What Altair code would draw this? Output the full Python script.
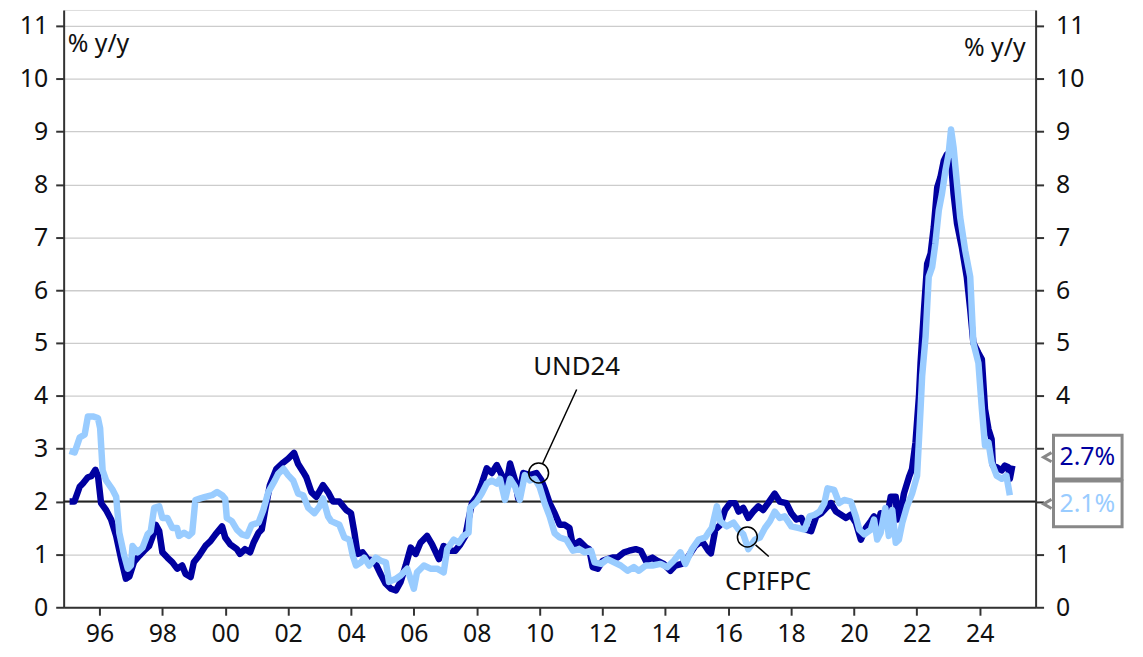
import altair as alt
import pandas as pd

# ---------------- data ----------------
und24_t = [1995.05, 1995.20, 1995.37, 1995.47, 1995.63, 1995.74, 1995.87, 1995.95,
           1996.05, 1996.21, 1996.37, 1996.53, 1996.69, 1996.84, 1996.95,
           1997.10, 1997.26, 1997.42, 1997.58, 1997.68, 1997.79, 1997.90,
           1998.00, 1998.16, 1998.32, 1998.47, 1998.63, 1998.74, 1998.90,
           1999.00, 1999.16, 1999.37, 1999.53, 1999.69, 1999.90,
           2000.00, 2000.16, 2000.37, 2000.47, 2000.63, 2000.79, 2000.90,
           2001.06, 2001.16, 2001.27, 2001.42, 2001.63, 2001.85,
           2002.00, 2002.19, 2002.32, 2002.48, 2002.58, 2002.74, 2002.90,
           2003.11, 2003.27, 2003.43, 2003.63, 2003.85,
           2004.00, 2004.11, 2004.21, 2004.37, 2004.53, 2004.74, 2004.95,
           2005.10, 2005.27, 2005.43, 2005.58, 2005.74, 2005.90,
           2006.06, 2006.21, 2006.42, 2006.58, 2006.80, 2006.95,
           2007.16, 2007.32, 2007.48, 2007.64, 2007.74, 2007.85,
           2008.00, 2008.16, 2008.32, 2008.48, 2008.64, 2008.80, 2008.90,
           2009.06, 2009.22, 2009.32, 2009.48, 2009.69, 2009.90,
           2010.06, 2010.16, 2010.32, 2010.48, 2010.64, 2010.80, 2010.95,
           2011.06, 2011.27, 2011.48, 2011.58, 2011.69, 2011.85,
           2012.01, 2012.16, 2012.32, 2012.48, 2012.69, 2012.85,
           2013.06, 2013.22, 2013.38, 2013.59, 2013.74, 2013.95,
           2014.16, 2014.32, 2014.53, 2014.74, 2014.95,
           2015.17, 2015.37, 2015.45, 2015.59, 2015.75, 2015.90,
           2016.06, 2016.22, 2016.33, 2016.48, 2016.64, 2016.80, 2016.96,
           2017.11, 2017.27, 2017.48, 2017.64, 2017.85,
           2018.01, 2018.17, 2018.33, 2018.48, 2018.64, 2018.80, 2018.96,
           2019.12, 2019.27, 2019.43, 2019.59, 2019.75, 2019.90,
           2020.06, 2020.22, 2020.38, 2020.54, 2020.64, 2020.74, 2020.85,
           2021.01, 2021.17, 2021.33, 2021.38, 2021.48, 2021.59, 2021.75, 2021.85, 2021.96,
           2022.07, 2022.12, 2022.23, 2022.33, 2022.44, 2022.54, 2022.65, 2022.75, 2022.86, 2022.96,
           2023.07, 2023.17, 2023.28, 2023.43, 2023.59, 2023.70, 2023.80, 2023.96,
           2024.07, 2024.17, 2024.28, 2024.38, 2024.42, 2024.54, 2024.70, 2024.80, 2024.91, 2024.96,
           2025.04]
und24_v = [2.00, 2.00, 2.28, 2.34, 2.46, 2.48, 2.60, 2.50,
           1.97, 1.84, 1.66, 1.35, 0.91, 0.54, 0.58,
           0.86, 0.97, 1.07, 1.16, 1.32, 1.56, 1.44,
           1.04, 0.94, 0.85, 0.73, 0.79, 0.63, 0.57,
           0.85, 0.97, 1.16, 1.25, 1.38, 1.53,
           1.32, 1.19, 1.10, 1.01, 1.10, 1.04, 1.22,
           1.41, 1.47, 1.84, 2.31, 2.62, 2.74,
           2.81, 2.92, 2.71, 2.56, 2.46, 2.18, 2.09,
           2.31, 2.18, 2.00, 2.00, 1.84,
           1.78, 1.41, 1.01, 1.04, 0.91, 0.88, 0.62,
           0.45, 0.35, 0.32, 0.48, 0.79, 1.13,
           1.01, 1.22, 1.35, 1.19, 0.91, 1.16,
           1.07, 1.07, 1.19, 1.35, 1.66, 1.97,
           2.09, 2.34, 2.63, 2.54, 2.69, 2.50, 2.18,
           2.72, 2.40, 2.06, 2.54, 2.50, 2.54,
           2.40, 2.25, 1.97, 1.78, 1.56, 1.56, 1.50,
           1.16, 1.25, 1.13, 1.10, 0.76, 0.73,
           0.88, 0.91, 0.94, 0.94, 1.04, 1.07,
           1.10, 1.07, 0.88, 0.94, 0.88, 0.82,
           0.69, 0.79, 0.82, 0.97, 1.16,
           1.25, 1.07, 1.02, 1.47, 1.56, 1.84,
           1.97, 1.97, 1.81, 1.88, 1.69, 1.81, 1.91,
           1.84, 1.97, 2.15, 2.00, 1.97,
           1.78, 1.66, 1.69, 1.47, 1.44, 1.72, 1.78,
           1.88, 1.97, 1.81, 1.75, 1.69, 1.75,
           1.60, 1.28, 1.50, 1.63, 1.72, 1.47, 1.78,
           1.56, 2.09, 2.09, 1.66, 1.78, 2.15, 2.46, 2.62, 3.12,
           4.00, 4.62, 5.63, 6.50, 6.69, 7.19, 7.94, 8.13, 8.45, 8.57,
           8.57, 7.82, 7.26, 6.82, 6.25, 5.63, 5.00, 4.81,
           4.69, 3.75, 3.37, 3.18, 2.68, 2.65, 2.59, 2.68, 2.65, 2.43,
           2.68]

cpifpc_t = [1995.05, 1995.21, 1995.37, 1995.53, 1995.63, 1995.79, 1995.95,
            1996.02, 1996.10, 1996.21, 1996.42, 1996.53, 1996.63, 1996.79, 1996.90,
            1997.00, 1997.05, 1997.21, 1997.37, 1997.53, 1997.63, 1997.74, 1997.90,
            1998.00, 1998.16, 1998.32, 1998.47, 1998.53, 1998.69, 1998.84, 1998.95,
            1999.05, 1999.21, 1999.37, 1999.58, 1999.74, 1999.90,
            2000.00, 2000.05, 2000.21, 2000.37, 2000.53, 2000.69, 2000.84,
            2001.06, 2001.21, 2001.37, 2001.58, 2001.69, 2001.85,
            2002.00, 2002.16, 2002.32, 2002.48, 2002.64, 2002.84,
            2003.00, 2003.11, 2003.27, 2003.37, 2003.63, 2003.79, 2003.95,
            2004.06, 2004.16, 2004.32, 2004.42, 2004.58, 2004.79, 2004.95,
            2005.11, 2005.21, 2005.43, 2005.58, 2005.79,
            2006.00, 2006.10, 2006.32, 2006.53, 2006.74, 2006.95,
            2007.06, 2007.27, 2007.43, 2007.58, 2007.74, 2007.79,
            2008.00, 2008.16, 2008.32, 2008.48, 2008.64, 2008.74, 2008.90,
            2009.06, 2009.22, 2009.37, 2009.53, 2009.69, 2009.85,
            2010.00, 2010.16, 2010.32, 2010.48, 2010.64, 2010.85,
            2011.06, 2011.27, 2011.43, 2011.64, 2011.75, 2011.96,
            2012.16, 2012.37, 2012.58, 2012.80,
            2013.00, 2013.16, 2013.38, 2013.59, 2013.85,
            2014.06, 2014.27, 2014.48, 2014.64, 2014.85,
            2015.06, 2015.27, 2015.37, 2015.48, 2015.64, 2015.75, 2015.95,
            2016.17, 2016.33, 2016.48, 2016.64, 2016.85,
            2017.01, 2017.17, 2017.33, 2017.48, 2017.64, 2017.80,
            2018.01, 2018.22, 2018.43, 2018.59, 2018.75, 2018.91,
            2019.06, 2019.16, 2019.37, 2019.53, 2019.69, 2019.90,
            2020.06, 2020.17, 2020.33, 2020.54, 2020.64, 2020.74, 2020.85,
            2021.00, 2021.11, 2021.22, 2021.33, 2021.43, 2021.54, 2021.69, 2021.85,
            2022.01, 2022.12, 2022.17, 2022.28, 2022.38, 2022.49, 2022.59, 2022.70, 2022.80, 2022.91,
            2023.01, 2023.09, 2023.17, 2023.28, 2023.38, 2023.54, 2023.70, 2023.80, 2023.96,
            2024.07, 2024.17, 2024.28, 2024.38, 2024.54, 2024.70, 2024.85, 2024.96]
cpifpc_v = [2.96, 2.93, 3.21, 3.27, 3.61, 3.61, 3.58,
            3.39, 2.59, 2.40, 2.22, 2.09, 1.41, 0.97, 0.73,
            0.79, 1.16, 1.04, 1.13, 1.38, 1.44, 1.88, 1.91,
            1.69, 1.69, 1.50, 1.50, 1.35, 1.41, 1.35, 1.41,
            2.03, 2.06, 2.09, 2.12, 2.18, 2.12,
            2.05, 1.69, 1.63, 1.47, 1.38, 1.35, 1.56,
            1.60, 1.84, 2.18, 2.40, 2.53, 2.62,
            2.50, 2.40, 2.15, 2.12, 1.88, 1.78,
            1.91, 2.06, 1.72, 1.63, 1.56, 1.32, 1.28,
            0.97, 0.79, 0.85, 0.94, 0.79, 0.94, 0.88,
            0.85, 0.48, 0.54, 0.60, 0.73,
            0.35, 0.66, 0.79, 0.73, 0.73, 0.66,
            1.10, 1.28, 1.22, 1.35, 1.41, 1.88,
            2.00, 2.15, 2.34, 2.40, 2.34, 2.43, 2.03,
            2.43, 2.28, 2.03, 2.50, 2.40, 2.43,
            2.28, 1.97, 1.72, 1.40, 1.32, 1.28,
            1.07, 1.10, 1.04, 1.07, 0.85, 0.82,
            0.91, 0.85, 0.79, 0.69,
            0.76, 0.69, 0.79, 0.79, 0.82,
            0.76, 0.88, 1.04, 0.82, 1.10,
            1.28, 1.32, 1.41, 1.50, 1.91, 1.63, 1.53,
            1.60, 1.47, 1.38, 1.10, 1.28,
            1.32, 1.50, 1.63, 1.81, 1.69, 1.72,
            1.53, 1.50, 1.47, 1.72, 1.75, 1.81,
            1.97, 2.25, 2.22, 1.97, 2.03, 2.00,
            1.72, 1.47, 1.38, 1.47, 1.66, 1.28, 1.41,
            1.88, 1.35, 1.84, 1.22, 1.28, 1.60, 1.91, 2.15,
            2.49, 3.75, 4.37, 5.12, 6.25, 6.44, 6.88, 7.51, 7.82, 8.26,
            8.57, 9.04, 8.70, 8.01, 7.38, 6.75, 6.25, 5.00, 4.62,
            3.75, 3.06, 3.12, 2.74, 2.49, 2.43, 2.49, 2.12]

series_names = ["UND24", "CPIFPC"]
series_colors = ["#0000A0", "#99CCFF"]
x_ticks = list(range(1996, 2025, 2))
y_ticks = list(range(0, 12))
ref_level = 2
last_labels = ["2.7%", "2.1%"]
unit_label = "% y/y"

# annotation anchors (data units)
ann_circle_t = [2009.97, 2016.61]
ann_circle_v = [2.54, 1.33]
ann_line_t = [2010.09, 2016.87]
ann_line_v = [2.71, 1.18]
ann_line_t2 = [2011.18, 2017.29]
ann_line_v2 = [4.12, 0.96]
ann_text_t = [2011.18, 2017.27]
ann_text_v = [4.39, 0.33]

# ---------------- chart ----------------
W, H = 978, 601
FONT = "Noto Sans"
xs = alt.Scale(domain=[1994.86, 2025.78], nice=False, zero=False)
ys = alt.Scale(domain=[0, 11.30], nice=False, zero=False)

x_axis = alt.Axis(values=x_ticks, labelExpr="slice('0' + (datum.value % 100), -2)",
                  title=None, grid=False, domainColor="#333333", domainWidth=2,
                  tickColor="#333333", tickWidth=2, tickSize=8, labelFontSize=25,
                  labelFont=FONT, labelColor="#111111", labelPadding=6, labelFlush=False)
left_axis = alt.Axis(orient="left", values=y_ticks, title=None, grid=True,
                     gridColor="#cccccc", gridWidth=1.3, domainColor="#333333",
                     domainWidth=2, tickColor="#333333", tickWidth=2, tickSize=8,
                     labelFontSize=25, labelFont=FONT, labelColor="#111111",
                     labelPadding=8)
# labels 2 and 3 on the right are hidden behind the last-value boxes
right_axis = alt.Axis(orient="right", values=y_ticks, title=None, grid=False,
                      domainColor="#333333", domainWidth=2, tickColor="#333333",
                      tickWidth=2, tickSize=8, labelFontSize=25, labelFont=FONT,
                      labelColor="#111111", labelPadding=12,
                      labelExpr="(datum.value == 2 || datum.value == 3) ? '' : datum.label")


def X(field):
    return alt.X(field, type="quantitative", scale=xs, axis=x_axis)


def Y(field, axis=None):
    return alt.Y(field, type="quantitative", scale=ys, axis=axis)


und24 = pd.DataFrame({"t": und24_t, "v": und24_v})
cpifpc = pd.DataFrame({"t": cpifpc_t, "v": cpifpc_v})

rule = alt.Chart(pd.DataFrame({"v": [ref_level]})).mark_rule(
    color="#222222", strokeWidth=2).encode(y=Y("v", right_axis))

dark = alt.Chart(und24).mark_line(color=series_colors[0], strokeWidth=6.5,
                                  strokeJoin="round").encode(x=X("t"), y=Y("v", left_axis))
light = alt.Chart(cpifpc).mark_line(color=series_colors[1], strokeWidth=6.5,
                                    strokeJoin="round").encode(x=X("t"), y=Y("v"))

circ = alt.Chart(pd.DataFrame({"t": ann_circle_t, "v": ann_circle_v})).mark_point(
    shape="circle", size=400, filled=False, stroke="black", strokeWidth=1.5,
    opacity=1).encode(x=X("t"), y=Y("v"))
lead = alt.Chart(pd.DataFrame({"t": ann_line_t, "v": ann_line_v,
                               "t2": ann_line_t2, "v2": ann_line_v2})).mark_rule(
    color="black", strokeWidth=1.5).encode(x=X("t"), y=Y("v"), x2="t2", y2="v2")
ann_txt = alt.Chart(pd.DataFrame({"t": ann_text_t, "v": ann_text_v,
                                  "s": series_names})).mark_text(
    font=FONT, fontSize=26, color="#111111", align="center",
    baseline="alphabetic").encode(x=X("t"), y=Y("v"), text="s:N")

unit_l = alt.Chart(pd.DataFrame({"s": [unit_label]})).mark_text(
    font=FONT, fontSize=25, color="#111111", align="left", baseline="alphabetic").encode(
    x=alt.value(4), y=alt.value(42), text="s:N")
unit_r = alt.Chart(pd.DataFrame({"s": [unit_label]})).mark_text(
    font=FONT, fontSize=25, color="#111111", align="right", baseline="alphabetic").encode(
    x=alt.value(968), y=alt.value(46), text="s:N")

boxes = pd.DataFrame({"s": last_labels, "c": series_colors,
                      "y0": [428, 474], "y1": [472, 520], "ym": [450, 497]})
box = alt.Chart(boxes).mark_rect(fill="white", stroke="#888888", strokeWidth=3).encode(
    x=alt.value(996), x2=alt.value(1065),
    y=alt.Y("y0:Q", scale=None, axis=None), y2="y1:Q")
ptr = alt.Chart(boxes).mark_point(shape="M1,-1.15L-1,0L1,1.15", size=64, filled=False,
                                  stroke="#888888", strokeWidth=3, opacity=1).encode(
    x=alt.value(990), y=alt.Y("ym:Q", scale=None, axis=None))
box_txt = alt.Chart(boxes).mark_text(font=FONT, fontSize=25, align="center",
                                     baseline="middle").encode(
    x=alt.value(1030), y=alt.Y("ym:Q", scale=None, axis=None),
    text="s:N", color=alt.Color("c:N", scale=None))

chart = alt.layer(rule, dark, light, circ, lead, ann_txt, unit_l, unit_r,
                  ptr, box, box_txt).resolve_scale(y="independent").properties(
    width=W, height=H,
    autosize=alt.AutoSizeParams(type="none"),
    padding={"left": 56, "top": 0, "right": 100, "bottom": 40},
).configure_view(stroke=None).configure(font=FONT)

chart.save("out.html", embed_options={"renderer": "svg", "actions": False})
